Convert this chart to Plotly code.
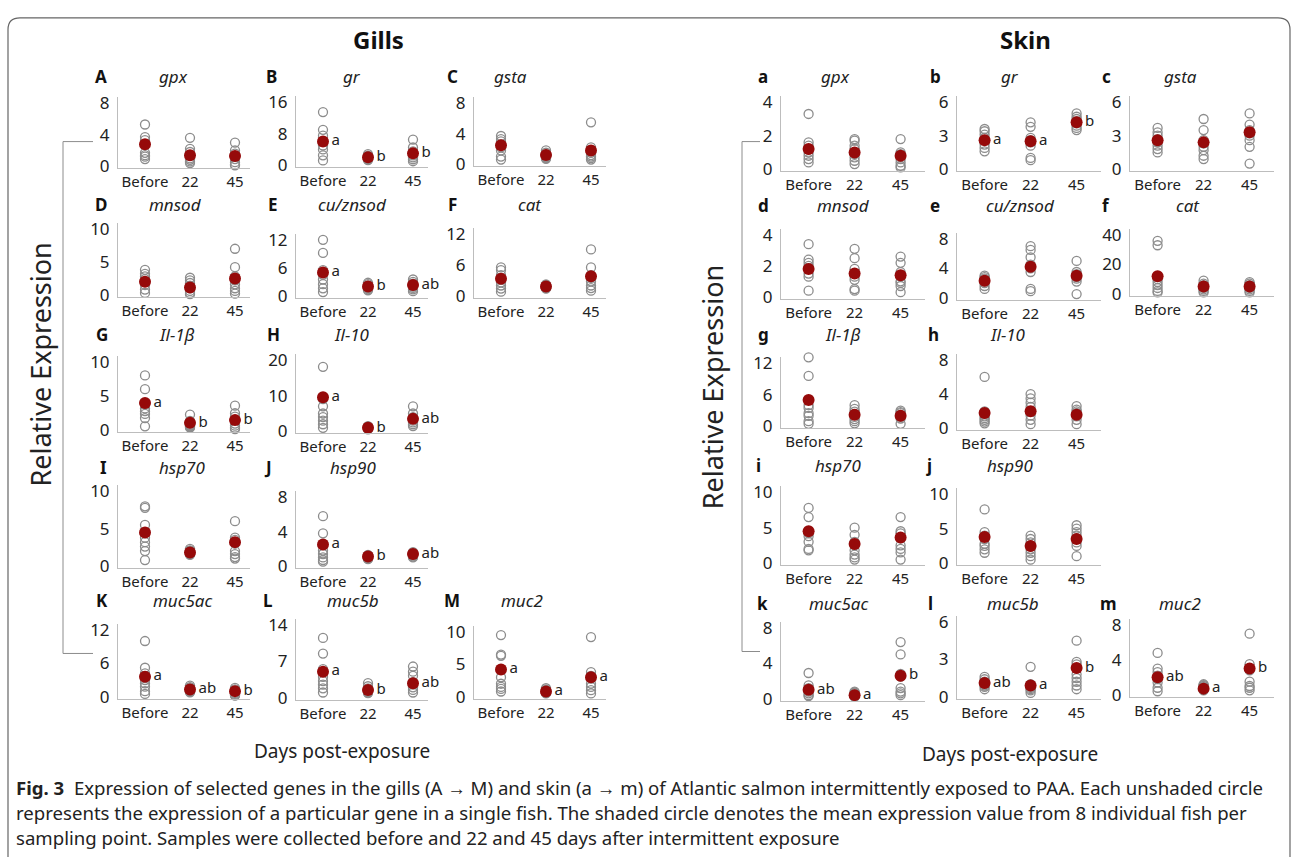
import plotly.graph_objects as go

W, H = 1295, 857
days = ["Before", "22", "45"]

# ---------------- Gills data (8 fish per day + mean + significance) ----------------
g_gpx = [[5.3, 3.7, 3.3, 2.8, 1.7, 1.4, 1.2, 0.9], [3.6, 2.2, 1.8, 1.3, 1.0, 0.8, 0.6, 0.4], [3.0, 2.0, 1.6, 1.2, 0.9, 0.5, 0.2, 0.1]]
g_gpx_mean = [2.8, 1.4, 1.3]
g_gpx_sig = ["", "", ""]

g_gr = [[13.5, 9.0, 7.5, 6.0, 5.0, 4.0, 2.5, 1.2], [2.8, 2.4, 2.2, 2.0, 1.8, 1.6, 1.5, 1.3], [6.5, 4.5, 3.5, 3.0, 2.5, 2.0, 1.5, 1.0]]
g_gr_mean = [6.0, 2.0, 3.0]
g_gr_sig = ["a", "b", "b"]

g_gsta = [[3.7, 3.3, 3.0, 2.6, 2.2, 1.8, 1.0, 0.6], [1.8, 1.5, 1.3, 1.2, 1.0, 0.9, 0.8, 0.7], [5.5, 2.2, 1.8, 1.5, 1.2, 1.0, 0.8, 0.6]]
g_gsta_mean = [2.5, 1.2, 1.8]
g_gsta_sig = ["", "", ""]

g_mnsod = [[3.8, 3.2, 2.8, 2.4, 2.0, 1.5, 0.8, 0.3], [2.6, 2.2, 1.8, 1.4, 1.0, 0.6, 0.3, 0.1], [7.0, 4.2, 2.8, 2.2, 1.6, 1.0, 0.6, 0.2]]
g_mnsod_mean = [2.0, 1.1, 2.5]
g_mnsod_sig = ["", "", ""]

g_cuzn = [[12.0, 9.2, 5.5, 4.5, 3.5, 2.5, 1.6, 0.8], [2.8, 2.5, 2.2, 2.0, 1.8, 1.6, 1.4, 1.2], [3.5, 3.0, 2.6, 2.3, 2.0, 1.7, 1.4, 1.0]]
g_cuzn_mean = [5.0, 2.0, 2.3]
g_cuzn_sig = ["a", "b", "ab"]

g_cat = [[5.5, 5.0, 4.0, 3.3, 2.6, 2.0, 1.4, 0.8], [2.2, 2.0, 1.9, 1.8, 1.7, 1.6, 1.5, 1.4], [9.0, 5.5, 4.0, 3.5, 2.8, 2.0, 1.5, 1.0]]
g_cat_mean = [3.3, 1.8, 3.8]
g_cat_sig = ["", "", ""]

g_il1b = [[8.0, 6.0, 3.8, 3.2, 2.8, 2.4, 1.8, 0.6], [2.3, 1.4, 1.0, 0.8, 0.7, 0.6, 0.5, 0.4], [3.6, 2.5, 2.0, 1.5, 1.0, 0.7, 0.4, 0.2]]
g_il1b_mean = [4.0, 1.1, 1.5]
g_il1b_sig = ["a", "b", "b"]

g_il10 = [[18.0, 9.0, 7.0, 5.0, 4.0, 3.0, 2.0, 1.0], [1.5, 1.3, 1.1, 1.0, 0.9, 0.8, 0.7, 0.6], [7.0, 5.0, 4.0, 3.5, 3.0, 2.5, 2.0, 1.5]]
g_il10_mean = [9.5, 1.0, 3.5]
g_il10_sig = ["a", "b", "ab"]

g_hsp70 = [[8.0, 7.8, 5.5, 3.8, 3.2, 2.6, 2.0, 0.8], [2.3, 2.1, 2.0, 1.9, 1.8, 1.7, 1.6, 1.5], [6.0, 3.8, 3.5, 3.0, 2.0, 1.6, 1.2, 1.0]]
g_hsp70_mean = [4.5, 1.8, 3.2]
g_hsp70_sig = ["", "", ""]

g_hsp90 = [[5.8, 3.8, 2.5, 1.8, 1.4, 1.0, 0.7, 0.5], [1.3, 1.2, 1.1, 1.0, 1.0, 0.9, 0.9, 0.8], [1.6, 1.5, 1.4, 1.3, 1.3, 1.2, 1.1, 1.0]]
g_hsp90_mean = [2.5, 1.1, 1.4]
g_hsp90_sig = ["a", "b", "ab"]

g_muc5ac = [[10.0, 5.2, 4.2, 3.0, 2.4, 1.8, 1.0, 0.5], [2.0, 1.7, 1.5, 1.3, 1.1, 1.0, 0.9, 0.8], [1.6, 1.3, 1.1, 0.9, 0.7, 0.5, 0.3, 0.2]]
g_muc5ac_mean = [3.6, 1.3, 1.0]
g_muc5ac_sig = ["a", "ab", "b"]

g_muc5b = [[11.5, 8.5, 5.5, 4.0, 3.2, 2.5, 1.8, 1.0], [2.8, 2.2, 1.8, 1.5, 1.3, 1.1, 1.0, 0.9], [6.0, 5.0, 4.2, 3.0, 2.5, 2.0, 1.5, 1.0]]
g_muc5b_mean = [5.0, 1.5, 2.8]
g_muc5b_sig = ["a", "b", "ab"]

g_muc2 = [[9.5, 6.5, 6.3, 3.0, 2.0, 1.5, 1.2, 0.8], [1.3, 1.1, 1.0, 0.9, 0.8, 0.7, 0.6, 0.5], [9.2, 3.8, 3.2, 2.8, 2.0, 1.5, 1.0, 0.5]]
g_muc2_mean = [4.2, 0.8, 3.0]
g_muc2_sig = ["a", "a", "a"]

# ---------------- Skin data ----------------
s_gpx = [[3.3, 1.6, 1.4, 1.2, 1.0, 0.8, 0.6, 0.4], [1.8, 1.7, 1.4, 1.2, 0.9, 0.7, 0.5, 0.3], [1.8, 1.0, 0.9, 0.8, 0.6, 0.4, 0.2, 0.1]]
s_gpx_mean = [1.2, 1.0, 0.8]
s_gpx_sig = ["", "", ""]

s_gr = [[3.6, 3.4, 3.1, 2.8, 2.6, 2.2, 1.9, 1.6], [4.2, 3.8, 2.8, 2.6, 2.4, 2.1, 1.0, 0.8], [5.0, 4.7, 4.5, 4.3, 4.1, 3.9, 3.7, 3.5]]
s_gr_mean = [2.6, 2.5, 4.2]
s_gr_sig = ["a", "a", "b"]

s_gsta = [[3.7, 3.3, 3.0, 2.7, 2.4, 2.1, 1.8, 1.5], [4.5, 3.5, 2.6, 2.3, 2.0, 1.7, 1.2, 0.9], [5.0, 4.0, 3.5, 3.2, 3.0, 2.6, 2.0, 0.5]]
s_gsta_mean = [2.6, 2.4, 3.3]
s_gsta_sig = ["", "", ""]

s_mnsod = [[3.4, 2.4, 2.2, 2.0, 1.8, 1.5, 1.3, 0.4], [3.1, 2.5, 1.8, 1.5, 1.3, 1.1, 0.5, 0.4], [2.6, 2.2, 1.6, 1.3, 1.0, 0.9, 0.7, 0.3]]
s_mnsod_mean = [1.8, 1.5, 1.4]
s_mnsod_sig = ["", "", ""]

s_cuzn = [[3.0, 2.8, 2.6, 2.4, 2.2, 2.0, 1.6, 1.2], [7.0, 6.5, 5.5, 4.5, 4.0, 3.5, 1.2, 0.9], [5.0, 3.5, 3.2, 3.0, 2.8, 2.6, 2.2, 0.5]]
s_cuzn_mean = [2.3, 4.2, 3.0]
s_cuzn_sig = ["", "", ""]

s_cat = [[36.0, 33.0, 10.0, 8.0, 6.0, 4.0, 2.0, 1.0], [9.0, 7.0, 6.0, 5.0, 4.0, 3.0, 2.0, 1.0], [8.0, 7.0, 6.0, 5.0, 4.0, 3.0, 2.0, 1.0]]
s_cat_mean = [12.0, 5.0, 5.0]
s_cat_sig = ["", "", ""]

s_il1b = [[13.0, 9.5, 4.0, 3.5, 2.5, 2.0, 1.0, 0.5], [4.0, 3.3, 2.8, 2.3, 1.8, 1.4, 1.0, 0.6], [3.0, 2.7, 2.5, 2.2, 2.0, 1.8, 1.5, 0.5]]
s_il1b_mean = [5.0, 2.2, 2.0]
s_il1b_sig = ["", "", ""]

s_il10 = [[6.0, 2.0, 1.7, 1.4, 1.2, 1.0, 0.8, 0.6], [4.0, 3.5, 3.0, 2.5, 2.0, 1.5, 1.0, 0.5], [2.6, 2.2, 2.0, 1.8, 1.6, 1.4, 1.0, 0.5]]
s_il10_mean = [1.8, 2.0, 1.6]
s_il10_sig = ["", "", ""]

s_hsp70 = [[7.8, 6.5, 4.5, 4.2, 3.8, 3.0, 2.0, 1.8], [5.0, 4.0, 3.0, 2.5, 1.8, 1.2, 0.8, 0.5], [6.5, 4.5, 4.2, 3.5, 2.5, 2.0, 1.5, 0.5]]
s_hsp70_mean = [4.5, 2.7, 3.6]
s_hsp70_sig = ["", "", ""]

s_hsp90 = [[7.8, 4.5, 4.0, 3.5, 2.8, 2.5, 2.0, 1.5], [4.0, 3.5, 3.0, 2.5, 2.0, 1.5, 1.0, 0.5], [5.5, 5.0, 4.5, 4.0, 3.5, 3.0, 2.5, 1.0]]
s_hsp90_mean = [3.8, 2.5, 3.5]
s_hsp90_sig = ["", "", ""]

s_muc5ac = [[2.9, 1.5, 1.2, 1.0, 0.8, 0.6, 0.4, 0.3], [0.8, 0.7, 0.6, 0.5, 0.4, 0.3, 0.3, 0.2], [6.4, 5.0, 2.8, 2.5, 1.2, 0.8, 0.6, 0.4]]
s_muc5ac_mean = [1.0, 0.4, 2.6]
s_muc5ac_sig = ["ab", "a", "b"]

s_muc5b = [[1.6, 1.4, 1.2, 1.1, 1.0, 0.9, 0.8, 0.6], [2.4, 1.0, 0.9, 0.8, 0.7, 0.6, 0.5, 0.3], [4.5, 2.8, 2.6, 1.8, 1.5, 1.2, 0.9, 0.6]]
s_muc5b_mean = [1.1, 0.9, 2.3]
s_muc5b_sig = ["ab", "a", "b"]

s_muc2 = [[4.8, 3.0, 2.6, 2.2, 1.8, 1.4, 0.8, 0.4], [1.2, 1.1, 1.0, 0.9, 0.8, 0.7, 0.6, 0.5], [7.0, 3.5, 3.0, 2.8, 1.5, 1.0, 0.8, 0.5]]
s_muc2_mean = [2.0, 0.7, 3.0]
s_muc2_sig = ["ab", "a", "b"]

# ---------------- panel layout (letter, gene, data, ticks, axis px, zero px, max px, letter px, gene px, title px) ----
panels = [
    # gills
    ("A", "gpx", g_gpx, g_gpx_mean, g_gpx_sig, [0, 4, 8], "g", 118, 163, 99, 101, 173, 75),
    ("B", "gr", g_gr, g_gr_mean, g_gr_sig, [0, 8, 16], "g", 296, 162, 98, 271, 352, 75),
    ("C", "gsta", g_gsta, g_gsta_mean, g_gsta_sig, [0, 4, 8], "g", 474, 161, 99, 452, 510, 75),
    ("D", "mnsod", g_mnsod, g_mnsod_mean, g_mnsod_sig, [0, 5, 10], "g", 118, 294, 227, 101, 175, 205),
    ("E", "cu/znsod", g_cuzn, g_cuzn_mean, g_cuzn_sig, [0, 6, 12], "g", 296, 295, 238, 273, 352, 205),
    ("F", "cat", g_cat, g_cat_mean, g_cat_sig, [0, 6, 12], "g", 474, 295, 232, 452, 530, 205),
    ("G", "Il-1β", g_il1b, g_il1b_mean, g_il1b_sig, [0, 5, 10], "g", 118, 432, 362, 102, 177, 337),
    ("H", "Il-10", g_il10, g_il10_mean, g_il10_sig, [0, 10, 20], "g", 296, 433, 360, 273, 352, 337),
    ("I", "hsp70", g_hsp70, g_hsp70_mean, g_hsp70_sig, [0, 5, 10], "g", 118, 570, 494, 103, 182, 473),
    ("J", "hsp90", g_hsp90, g_hsp90_mean, g_hsp90_sig, [0, 4, 8], "g", 296, 570, 500, 268, 353, 473),
    ("K", "muc5ac", g_muc5ac, g_muc5ac_mean, g_muc5ac_sig, [0, 6, 12], "g", 118, 703, 635, 102, 182, 608),
    ("L", "muc5b", g_muc5b, g_muc5b_mean, g_muc5b_sig, [0, 7, 14], "g", 296, 704, 630, 268, 353, 608),
    ("M", "muc2", g_muc2, g_muc2_mean, g_muc2_sig, [0, 5, 10], "g", 474, 703, 637, 452, 522, 608),
    # skin
    ("a", "gpx", s_gpx, s_gpx_mean, s_gpx_sig, [0, 2, 4], "s", 781, 166, 98, 763, 835, 75),
    ("b", "gr", s_gr, s_gr_mean, s_gr_sig, [0, 3, 6], "s", 957, 166, 98, 935, 1010, 75),
    ("c", "gsta", s_gsta, s_gsta_mean, s_gsta_sig, [0, 3, 6], "s", 1130, 166, 98, 1106, 1180, 75),
    ("d", "mnsod", s_mnsod, s_mnsod_mean, s_mnsod_sig, [0, 2, 4], "s", 781, 296, 233, 763, 843, 206),
    ("e", "cu/znsod", s_cuzn, s_cuzn_mean, s_cuzn_sig, [0, 4, 8], "s", 957, 297, 237, 935, 1020, 206),
    ("f", "cat", s_cat, s_cat_mean, s_cat_sig, [0, 20, 40], "s", 1130, 293, 233, 1106, 1188, 206),
    ("g", "Il-1β", s_il1b, s_il1b_mean, s_il1b_sig, [0, 6, 12], "s", 781, 428, 363, 763, 843, 337),
    ("h", "Il-10", s_il10, s_il10_mean, s_il10_sig, [0, 4, 8], "s", 957, 430, 360, 933, 1008, 337),
    ("i", "hsp70", s_hsp70, s_hsp70_mean, s_hsp70_sig, [0, 5, 10], "s", 781, 567, 495, 758, 838, 471),
    ("j", "hsp90", s_hsp90, s_hsp90_mean, s_hsp90_sig, [0, 5, 10], "s", 957, 567, 497, 929, 1010, 471),
    ("k", "muc5ac", s_muc5ac, s_muc5ac_mean, s_muc5ac_sig, [0, 4, 8], "s", 781, 705, 633, 762, 838, 611),
    ("l", "muc5b", s_muc5b, s_muc5b_mean, s_muc5b_sig, [0, 3, 6], "s", 957, 703, 627, 930, 1013, 611),
    ("m", "muc2", s_muc2, s_muc2_mean, s_muc2_sig, [0, 4, 8], "s", 1130, 701, 630, 1108, 1180, 611),
]


def fx(px):
    return px / W


def fy(py):
    return 1 - py / H


FONT = "Noto Sans"
OPEN = "#8c8c8c"
MEAN = "#960a0a"
AXC = "#bdbdbd"
TSHIFT = -3  # annotation box centre vs glyph centre

fig = go.Figure()
layout = {}
annotations = []

for i, (let, gene, vals, means, sig, ticks, side, ax0, py0, pymax, lx, gx, ty) in enumerate(panels):
    n = i + 1
    xa = "x" if n == 1 else f"x{n}"
    ya = "y" if n == 1 else f"y{n}"
    if side == "g":
        unit, width = 45.0, 132
    else:
        unit, width = 46.0, 144
    xlo = -0.6
    xhi = xlo + width / unit
    tmax = ticks[-1]
    upp = tmax / (py0 - pymax)
    bot, top = py0 + 2, pymax - 6
    ylo = -2 * upp
    yhi = tmax + 6 * upp

    xs, ys = [], []
    for k, d in enumerate(days):
        for v in vals[k]:
            xs.append(k)
            ys.append(v)
    fig.add_trace(go.Scatter(
        x=xs, y=ys, mode="markers", xaxis=xa, yaxis=ya, cliponaxis=False,
        marker=dict(symbol="circle-open", size=9, color=OPEN, line=dict(width=1.3, color=OPEN)),
        showlegend=False, hoverinfo="skip"))
    fig.add_trace(go.Scatter(
        x=[0, 1, 2], y=means, mode="markers+text", text=sig, textposition="middle right",
        textfont=dict(family=FONT, size=15, color="#222"),
        xaxis=xa, yaxis=ya, cliponaxis=False,
        marker=dict(symbol="circle", size=12, color=MEAN),
        showlegend=False, hoverinfo="skip"))

    layout["xaxis" if n == 1 else f"xaxis{n}"] = dict(
        domain=[fx(ax0), fx(ax0 + width)], range=[xlo, xhi], anchor=ya,
        tickvals=[0, 1, 2], ticktext=days, showline=True, linecolor=AXC, linewidth=1,
        showgrid=False, zeroline=False, ticks="", ticklabelstandoff=0,
        tickfont=dict(family=FONT, size=15, color="#222"), fixedrange=True)
    layout["yaxis" if n == 1 else f"yaxis{n}"] = dict(
        domain=[fy(bot), fy(top)], range=[ylo, yhi], anchor=xa,
        tickvals=ticks, showline=True, linecolor=AXC, linewidth=1,
        showgrid=False, zeroline=False, ticks="", ticklabelstandoff=4,
        tickfont=dict(family=FONT, size=17, color="#222"), fixedrange=True)

    annotations.append(dict(x=fx(lx), y=fy(ty + TSHIFT), xref="paper", yref="paper", text=f"<b>{let}</b>",
                            showarrow=False, xanchor="center", yanchor="middle",
                            font=dict(family=FONT, size=17, color="#111")))
    annotations.append(dict(x=fx(gx), y=fy(ty + TSHIFT), xref="paper", yref="paper", text=f"<i>{gene}</i>",
                            showarrow=False, xanchor="center", yanchor="middle",
                            font=dict(family=FONT, size=17, color="#222")))

# headings and axis titles
annotations += [
    dict(x=fx(378), y=fy(34), text="<b>Gills</b>", font=dict(family=FONT, size=24, color="#111")),
    dict(x=fx(1025), y=fy(34), text="<b>Skin</b>", font=dict(family=FONT, size=24, color="#111")),
    dict(x=fx(41), y=fy(365), text="Relative Expression", textangle=-90, font=dict(family=FONT, size=27, color="#222")),
    dict(x=fx(712), y=fy(388), text="Relative Expression", textangle=-90, font=dict(family=FONT, size=27, color="#222")),
    dict(x=fx(342), y=fy(758), text="Days post-exposure", font=dict(family=FONT, size=19, color="#222")),
    dict(x=fx(1010), y=fy(761), text="Days post-exposure", font=dict(family=FONT, size=19, color="#222")),
]
for a in annotations[-6:]:
    a.update(xref="paper", yref="paper", showarrow=False, xanchor="center", yanchor="middle")

caption = [
    "<b>Fig. 3</b>  Expression of selected genes in the gills (A → M) and skin (a → m) of Atlantic salmon intermittently exposed to PAA. Each unshaded circle",
    "represents the expression of a particular gene in a single fish. The shaded circle denotes the mean expression value from 8 individual fish per",
    "sampling point. Samples were collected before and 22 and 45 days after intermittent exposure",
]
for j, line in enumerate(caption):
    annotations.append(dict(x=fx(14), y=fy(795 + 25.5 * j), xref="paper", yref="paper", text=line,
                            showarrow=False, xanchor="left", yanchor="middle",
                            font=dict(family=FONT, size=18.6, color="#222")))

# frame and brackets
shapes = []
r = 12
path = (f"M {fx(8)},{fy(880)} L {fx(8)},{fy(12 + r)} Q {fx(8)},{fy(12)} {fx(8 + r)},{fy(12)} "
        f"L {fx(1290 - r)},{fy(12)} Q {fx(1290)},{fy(12)} {fx(1290)},{fy(12 + r)} L {fx(1290)},{fy(880)}")
shapes.append(dict(type="path", xref="paper", yref="paper", path=path, line=dict(color="#666", width=1.2)))
for (xv, xh, yt, yb) in [(63, 93, 138, 659), (742, 760, 138, 657)]:
    bpath = (f"M {fx(xh)},{fy(yt)} L {fx(xv)},{fy(yt)} L {fx(xv)},{fy(yb)} L {fx(xh)},{fy(yb)}")
    shapes.append(dict(type="path", xref="paper", yref="paper", path=bpath, line=dict(color="#8c8c8c", width=1)))

fig.update_layout(
    width=W, height=H, margin=dict(l=0, r=0, t=0, b=0, pad=0),
    paper_bgcolor="white", plot_bgcolor="rgba(0,0,0,0)",
    annotations=annotations, shapes=shapes, showlegend=False,
    **layout)

fig.write_html("out.html")
